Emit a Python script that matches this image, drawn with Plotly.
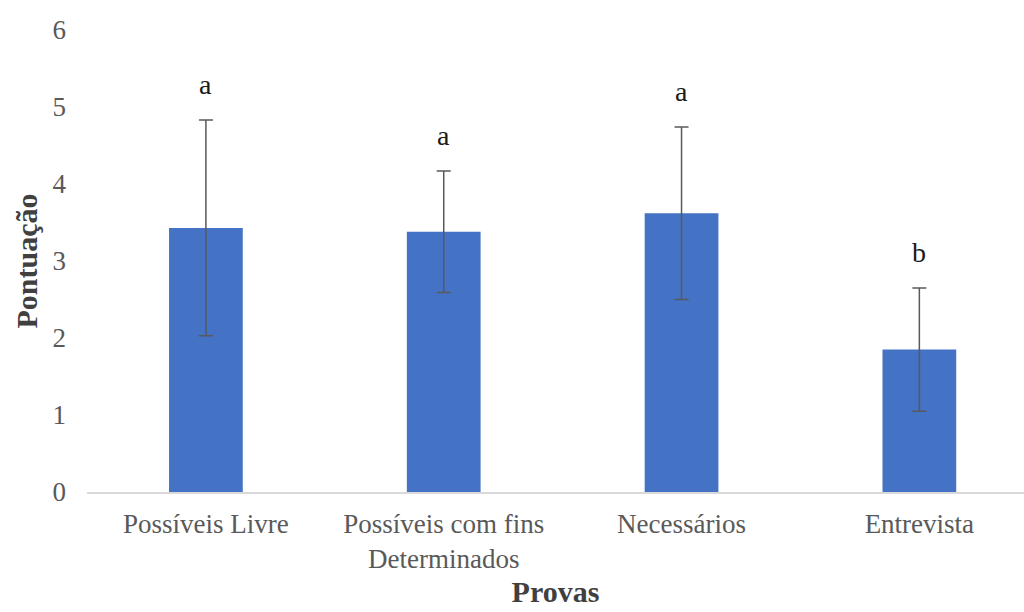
import plotly.graph_objects as go

# Scores by test, with standard deviations and significance letters
categorias = ["Possíveis Livre", "Possíveis com fins<br>Determinados", "Necessários", "Entrevista"]
medias = [3.43, 3.38, 3.62, 1.85]
desvios = [1.40, 0.79, 1.12, 0.80]
letras = ["a", "a", "a", "b"]

SERIF = "Liberation Serif, Times New Roman, serif"

fig = go.Figure(
    go.Bar(
        x=categorias,
        y=medias,
        marker=dict(color="#4472C4", line=dict(width=0)),
        error_y=dict(type="data", array=desvios, visible=True,
                     color="#595959", thickness=1.5, width=7),
        width=0.31,
        hoverinfo="skip",
    )
)

# Significance letters above each error bar
for cat, m, d, l in zip(categorias, medias, desvios, letras):
    fig.add_annotation(
        x=cat, y=m + d, text=l, showarrow=False,
        yanchor="bottom", yshift=18,
        font=dict(family=SERIF, size=28, color="#1a1a1a"),
    )

fig.update_layout(
    width=1024, height=612,
    margin=dict(l=87, r=0, t=30, b=120),
    paper_bgcolor="white", plot_bgcolor="white",
    showlegend=False,
    font=dict(family=SERIF, color="#595959"),
    xaxis=dict(
        type="category",
        range=[-0.5, 3.44],
        showline=True, linecolor="#d9d9d9", linewidth=1.5,
        showgrid=False, ticks="",
        tickfont=dict(family=SERIF, size=27, color="#595959"),
        ticklabelstandoff=7,
        title=dict(text="<b>Provas</b>", standoff=8,
                   font=dict(family=SERIF, size=30, color="#404040")),
    ),
    yaxis=dict(
        range=[0, 6], tickvals=[0, 1, 2, 3, 4, 5, 6],
        showline=False, showgrid=False, zeroline=False, ticks="",
        tickfont=dict(family=SERIF, size=27, color="#595959"),
        ticklabelstandoff=20,
        title=dict(text="<b>Pontuação</b>", standoff=6,
                   font=dict(family=SERIF, size=30, color="#404040")),
    ),
)

fig.write_html("out.html")
